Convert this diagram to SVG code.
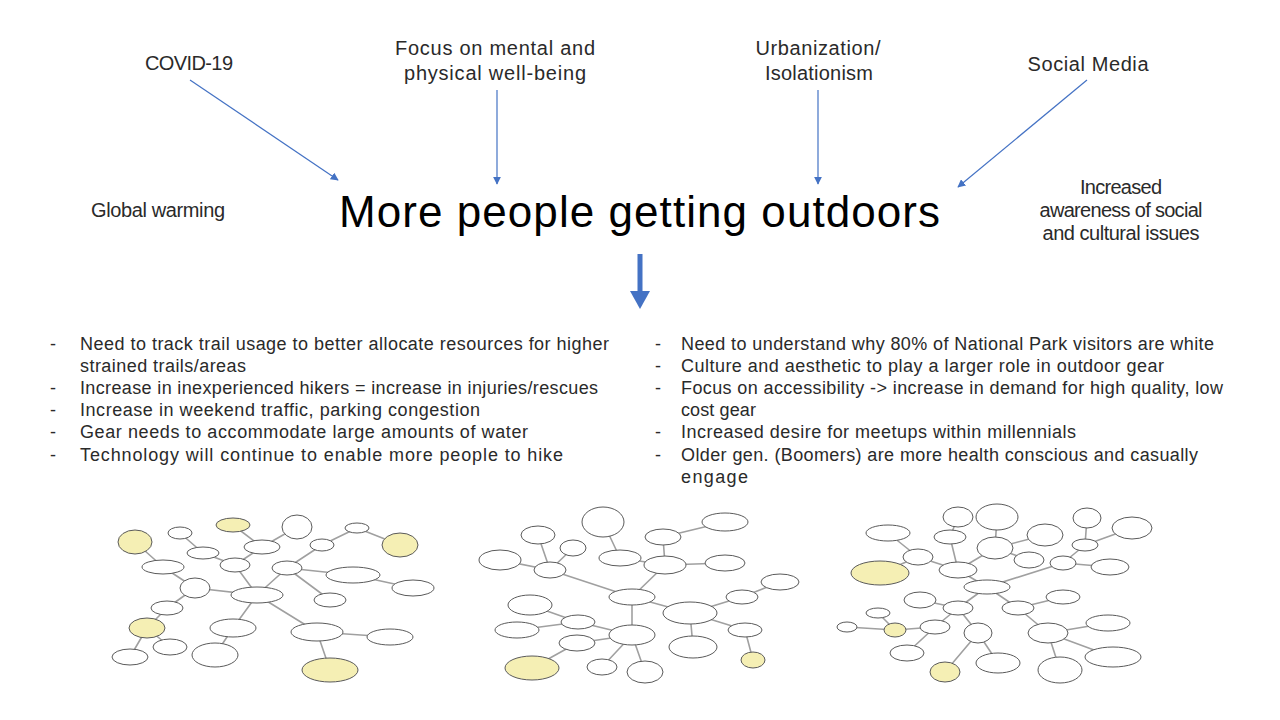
<svg xmlns="http://www.w3.org/2000/svg" width="1280" height="720" viewBox="0 0 1280 720">
<style>
.t{font-family:"Liberation Sans",Arial,sans-serif;fill:#2a2a2a}
.lbl{font-size:20px;text-anchor:middle}
.b{font-size:18px}
.ar{stroke:#4472C4;stroke-width:1.2;fill:none}
.e{fill:#fff;stroke:#5a5a5a;stroke-width:1}
.y{fill:#f5efb4;stroke:#5a5a5a;stroke-width:1}
.c{stroke:#a0a0a0;stroke-width:1.6;fill:none}
</style>
<defs>
<marker id="ah" viewBox="0 0 10 10" refX="9" refY="5" markerWidth="8" markerHeight="8" markerUnits="userSpaceOnUse" orient="auto">
<path d="M0,0 L10,5 L0,10 z" fill="#4472C4"/>
</marker>
</defs>
<rect width="1280" height="720" fill="#fff"/>

<g id="n-covid"><text class="t lbl" x="189" y="70" textLength="88">COVID-19</text></g>
<g id="n-focus"><text class="t lbl" x="495" y="55" textLength="200">Focus on mental and</text><text class="t lbl" x="495" y="80" textLength="182">physical well-being</text></g>
<g id="n-urban"><text class="t lbl" x="818" y="55" textLength="125">Urbanization/</text><text class="t lbl" x="819" y="80" textLength="108">Isolationism</text></g>
<g id="n-social"><text class="t lbl" x="1088" y="71" textLength="121">Social Media</text></g>
<g id="n-global"><text class="t lbl" x="158" y="217" font-size="18" textLength="134">Global warming</text></g>
<g id="n-aware"><text class="t lbl" x="1121" y="194" textLength="82">Increased</text><text class="t lbl" x="1121" y="217" textLength="163">awareness of social</text><text class="t lbl" x="1121" y="240" textLength="157">and cultural issues</text></g>
<g id="n-main"><text class="t" x="339" y="227" font-size="44" textLength="601" style="fill:#000">More people getting outdoors</text></g>

<g id="connectors">
<line class="ar" x1="190" y1="80" x2="338" y2="180" marker-end="url(#ah)"/>
<line class="ar" x1="497" y1="90" x2="497" y2="184" marker-end="url(#ah)"/>
<line class="ar" x1="818" y1="90" x2="818" y2="184" marker-end="url(#ah)"/>
<line class="ar" x1="1087" y1="80" x2="958" y2="187" marker-end="url(#ah)"/>
<rect x="637.5" y="254" width="5" height="38" fill="#4472C4"/>
<path d="M630,291 L650,291 L640,309 z" fill="#4472C4"/>
</g>

<g id="n-left-list">
<text class="t b" x="50" y="350">-</text><text class="t b" x="80" y="350" textLength="529">Need to track trail usage to better allocate resources for higher</text>
<text class="t b" x="80" y="372" textLength="166">strained trails/areas</text>
<text class="t b" x="50" y="394">-</text><text class="t b" x="80" y="394" textLength="518">Increase in inexperienced hikers = increase in injuries/rescues</text>
<text class="t b" x="50" y="416">-</text><text class="t b" x="80" y="416" textLength="400">Increase in weekend traffic, parking congestion</text>
<text class="t b" x="50" y="438">-</text><text class="t b" x="80" y="438" textLength="448">Gear needs to accommodate large amounts of water</text>
<text class="t b" x="50" y="461">-</text><text class="t b" x="80" y="461" textLength="483">Technology will continue to enable more people to hike</text>
</g>
<g id="n-right-list">
<text class="t b" x="655" y="350">-</text><text class="t b" x="681" y="350" textLength="533">Need to understand why 80% of National Park visitors are white</text>
<text class="t b" x="655" y="372">-</text><text class="t b" x="681" y="372" textLength="483">Culture and aesthetic to play a larger role in outdoor gear</text>
<text class="t b" x="655" y="394">-</text><text class="t b" x="681" y="394" textLength="542">Focus on accessibility -&gt; increase in demand for high quality, low</text>
<text class="t b" x="681" y="416" textLength="75">cost gear</text>
<text class="t b" x="655" y="438">-</text><text class="t b" x="681" y="438" textLength="395">Increased desire for meetups within millennials</text>
<text class="t b" x="655" y="461">-</text><text class="t b" x="681" y="461" textLength="517">Older gen. (Boomers) are more health conscious and casually</text>
<text class="t b" x="681" y="483" textLength="67">engage</text>
</g>

<!-- Sketch 1 -->
<g id="sketch1">
<path class="c" d="M257,595 L195,588 M195,588 L163,567 M195,588 L167,608 M163,567 L135,542 M257,595 L235,565 M235,565 L203,553 M203,553 L180,533 M235,565 L262,547 M262,547 L233,525 M262,547 L297,527 M257,595 L287,568 M287,568 L322,545 M322,545 L357,528 M357,528 L400,545 M287,568 L353,575 M353,575 L413,588 M287,568 L330,600 M167,608 L147,628 M147,628 L130,657 M147,628 L170,647 M257,595 L233,628 M233,628 L215,655 M257,595 L317,632 M317,632 L390,637 M317,632 L330,670"/>
<ellipse class="y" cx="233" cy="525" rx="17" ry="7"/>
<ellipse class="e" cx="297" cy="527" rx="15" ry="12"/>
<ellipse class="e" cx="357" cy="528" rx="12" ry="5"/>
<ellipse class="y" cx="400" cy="545" rx="18" ry="12"/>
<ellipse class="e" cx="322" cy="545" rx="12" ry="6"/>
<ellipse class="y" cx="135" cy="542" rx="17" ry="12"/>
<ellipse class="e" cx="180" cy="533" rx="12" ry="6"/>
<ellipse class="e" cx="262" cy="547" rx="18" ry="7"/>
<ellipse class="e" cx="203" cy="553" rx="16" ry="6"/>
<ellipse class="e" cx="163" cy="567" rx="21" ry="7"/>
<ellipse class="e" cx="235" cy="565" rx="15" ry="7"/>
<ellipse class="e" cx="287" cy="568" rx="15" ry="7"/>
<ellipse class="e" cx="353" cy="575" rx="27" ry="8"/>
<ellipse class="e" cx="413" cy="588" rx="21" ry="8"/>
<ellipse class="e" cx="195" cy="588" rx="15" ry="10"/>
<ellipse class="e" cx="257" cy="595" rx="26" ry="8"/>
<ellipse class="e" cx="330" cy="600" rx="16" ry="7"/>
<ellipse class="e" cx="167" cy="608" rx="16" ry="7"/>
<ellipse class="y" cx="147" cy="628" rx="18" ry="10"/>
<ellipse class="e" cx="233" cy="628" rx="23" ry="9"/>
<ellipse class="e" cx="317" cy="632" rx="26" ry="9"/>
<ellipse class="e" cx="390" cy="637" rx="23" ry="8"/>
<ellipse class="e" cx="170" cy="647" rx="17" ry="8"/>
<ellipse class="e" cx="130" cy="657" rx="18" ry="8"/>
<ellipse class="e" cx="215" cy="655" rx="23" ry="12"/>
<ellipse class="y" cx="330" cy="670" rx="28" ry="12"/>
</g>

<!-- Sketch 2 -->
<g id="sketch2">
<path class="c" d="M632,597 L550,570 M632,597 L665,565 M632,597 L632,635 M632,597 L690,613 M550,570 L538,535 M550,570 L573,548 M550,570 L500,560 M665,565 L620,558 M665,565 L663,537 M665,565 L725,563 M620,558 L603,522 M663,537 L725,522 M690,613 L742,597 M690,613 L745,630 M690,613 L693,647 M742,597 L780,582 M745,630 L753,660 M632,635 L578,622 M632,635 L577,643 M632,635 L602,667 M632,635 L645,672 M578,622 L530,605 M578,622 L517,630 M577,643 L532,668"/>
<ellipse class="e" cx="603" cy="522" rx="21" ry="15"/>
<ellipse class="e" cx="725" cy="522" rx="23" ry="9"/>
<ellipse class="e" cx="663" cy="537" rx="18" ry="8"/>
<ellipse class="e" cx="538" cy="535" rx="17" ry="9"/>
<ellipse class="e" cx="573" cy="548" rx="13" ry="8"/>
<ellipse class="e" cx="500" cy="560" rx="21" ry="10"/>
<ellipse class="e" cx="620" cy="558" rx="21" ry="8"/>
<ellipse class="e" cx="550" cy="570" rx="16" ry="8"/>
<ellipse class="e" cx="665" cy="565" rx="21" ry="9"/>
<ellipse class="e" cx="725" cy="563" rx="20" ry="8"/>
<ellipse class="e" cx="780" cy="582" rx="19" ry="8"/>
<ellipse class="e" cx="632" cy="597" rx="23" ry="8"/>
<ellipse class="e" cx="742" cy="597" rx="16" ry="7"/>
<ellipse class="e" cx="530" cy="605" rx="22" ry="10"/>
<ellipse class="e" cx="690" cy="613" rx="27" ry="11"/>
<ellipse class="e" cx="578" cy="622" rx="17" ry="7"/>
<ellipse class="e" cx="517" cy="630" rx="22" ry="8"/>
<ellipse class="e" cx="745" cy="630" rx="17" ry="7"/>
<ellipse class="e" cx="632" cy="635" rx="23" ry="10"/>
<ellipse class="e" cx="577" cy="643" rx="18" ry="8"/>
<ellipse class="e" cx="693" cy="647" rx="24" ry="11"/>
<ellipse class="y" cx="532" cy="668" rx="27" ry="12"/>
<ellipse class="e" cx="602" cy="667" rx="15" ry="8"/>
<ellipse class="e" cx="645" cy="672" rx="18" ry="11"/>
<ellipse class="y" cx="753" cy="660" rx="12" ry="8"/>
</g>

<!-- Sketch 3 -->
<g id="sketch3">
<path class="c" d="M987,587 L958,570 M987,587 L1063,563 M987,587 L958,608 M987,587 L1018,608 M958,570 L918,557 M958,570 L995,548 M958,570 L950,537 M918,557 L888,533 M918,557 L880,573 M950,537 L958,517 M995,548 L997,517 M995,548 L1045,535 M995,548 L1029,560 M1063,563 L1085,545 M1063,563 L1110,567 M1085,545 L1087,518 M1085,545 L1132,528 M958,608 L920,600 M958,608 L935,627 M958,608 L978,633 M935,627 L895,630 M935,627 L907,653 M895,630 L878,613 M895,630 L847,627 M978,633 L945,672 M978,633 L998,663 M1018,608 L1063,597 M1018,608 L1048,633 M1048,633 L1108,623 M1048,633 L1113,657 M1048,633 L1060,670"/>
<ellipse class="e" cx="958" cy="517" rx="15" ry="10"/>
<ellipse class="e" cx="997" cy="517" rx="21" ry="13"/>
<ellipse class="e" cx="1087" cy="518" rx="14" ry="10"/>
<ellipse class="e" cx="1132" cy="528" rx="20" ry="11"/>
<ellipse class="e" cx="888" cy="533" rx="22" ry="8"/>
<ellipse class="e" cx="950" cy="537" rx="16" ry="7"/>
<ellipse class="e" cx="1045" cy="535" rx="18" ry="11"/>
<ellipse class="e" cx="995" cy="548" rx="18" ry="11"/>
<ellipse class="e" cx="1085" cy="545" rx="13" ry="6"/>
<ellipse class="e" cx="918" cy="557" rx="15" ry="8"/>
<ellipse class="e" cx="1029" cy="560" rx="15" ry="8"/>
<ellipse class="e" cx="1063" cy="563" rx="13" ry="7"/>
<ellipse class="e" cx="1110" cy="567" rx="19" ry="8"/>
<ellipse class="e" cx="958" cy="570" rx="19" ry="8"/>
<ellipse class="y" cx="880" cy="573" rx="29" ry="12"/>
<ellipse class="e" cx="987" cy="587" rx="23" ry="7"/>
<ellipse class="e" cx="920" cy="600" rx="16" ry="8"/>
<ellipse class="e" cx="1063" cy="597" rx="17" ry="7"/>
<ellipse class="e" cx="958" cy="608" rx="15" ry="7"/>
<ellipse class="e" cx="1018" cy="608" rx="16" ry="7"/>
<ellipse class="e" cx="878" cy="613" rx="12" ry="5"/>
<ellipse class="e" cx="847" cy="627" rx="10" ry="5"/>
<ellipse class="y" cx="895" cy="630" rx="11" ry="7"/>
<ellipse class="e" cx="935" cy="627" rx="15" ry="7"/>
<ellipse class="e" cx="1108" cy="623" rx="22" ry="8"/>
<ellipse class="e" cx="1048" cy="633" rx="20" ry="10"/>
<ellipse class="e" cx="978" cy="633" rx="14" ry="10"/>
<ellipse class="e" cx="907" cy="653" rx="17" ry="8"/>
<ellipse class="e" cx="1113" cy="657" rx="28" ry="10"/>
<ellipse class="e" cx="998" cy="663" rx="22" ry="10"/>
<ellipse class="e" cx="1060" cy="670" rx="22" ry="13"/>
<ellipse class="y" cx="945" cy="672" rx="15" ry="10"/>
</g>
</svg>
